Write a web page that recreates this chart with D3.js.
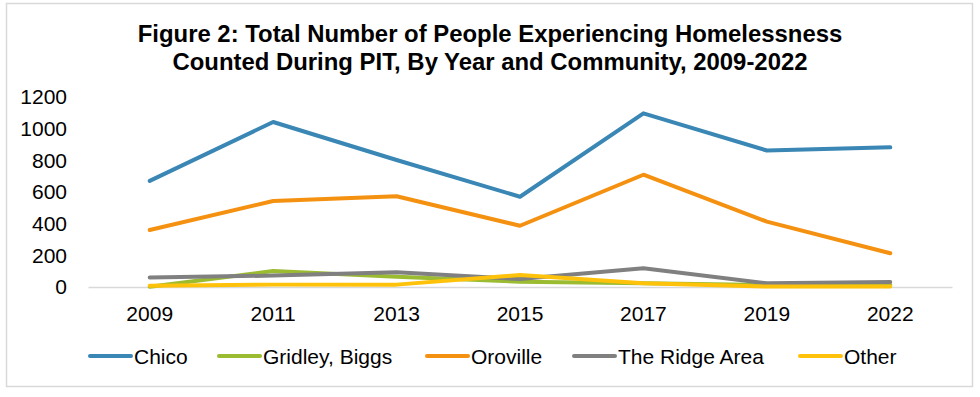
<!DOCTYPE html>
<html>
<head>
<meta charset="utf-8">
<script src="https://cdn.jsdelivr.net/npm/d3@7"></script>
<style>
  body { margin: 0; background: #fff; }
  svg { display: block; font-family: "Liberation Sans", Arial, sans-serif; }
</style>
</head>
<body>
<script>
// chart data
var years = ["2009", "2011", "2013", "2015", "2017", "2019", "2022"];
var communities = ["Chico", "Gridley, Biggs", "Oroville", "The Ridge Area", "Other"];
var chico = [670, 1042, 802, 570, 1097, 862, 882];
var gridley = [2, 101, 65, 33, 23, 12, 12];
var oroville = [360, 543, 573, 387, 709, 413, 213];
var ridge = [60, 72, 93, 50, 118, 23, 32];
var other = [8, 15, 15, 76, 23, 3, 3];
var yTicks = [0, 200, 400, 600, 800, 1000, 1200];
var colors = ["#3a87b5", "#9bbb30", "#f59110", "#808080", "#ffc20a"];

var seriesList = [chico, gridley, oroville, ridge, other];

var width = 980,
    height = 397;

var svg = d3.select("body").append("svg")
    .attr("width", width)
    .attr("height", height);

// outer frame
svg.append("rect")
    .attr("x", 6.5).attr("y", 3.5)
    .attr("width", 966).attr("height", 383)
    .attr("fill", "#fff")
    .attr("stroke", "#d9d9d9")
    .attr("stroke-width", 1.5);

// title
var title = svg.append("text")
    .attr("text-anchor", "middle")
    .attr("font-weight", "bold")
    .attr("font-size", "23.9px")
    .attr("fill", "#000");
title.append("tspan").attr("x", 490).attr("y", 41.5)
    .text("Figure 2: Total Number of People Experiencing Homelessness");
title.append("tspan").attr("x", 490).attr("y", 69.5)
    .text("Counted During PIT, By Year and Community, 2009-2022");

var x = d3.scaleBand()
    .domain(years)
    .range([88, 952]);

var y = d3.scaleLinear()
    .domain([0, 1200])
    .range([287, 97]);

// y axis labels
svg.append("g")
    .attr("transform", "translate(67,0)")
    .call(d3.axisLeft(y).tickValues(yTicks).tickFormat(d3.format("d")).tickSize(0).tickPadding(0))
    .call(function(g) {
      g.select(".domain").remove();
      g.selectAll("text")
        .attr("font-size", "21px")
        .attr("font-family", "\"Liberation Sans\", Arial, sans-serif")
        .attr("fill", "#000");
    });

// x axis (baseline at zero)
svg.append("g")
    .attr("transform", "translate(0," + y(0) + ")")
    .call(d3.axisBottom(x).tickSize(0).tickPadding(19))
    .call(function(g) {
      g.select(".domain").attr("stroke", "#d9d9d9").attr("stroke-width", 1.5);
      g.selectAll("text")
        .attr("font-size", "21px")
        .attr("font-family", "\"Liberation Sans\", Arial, sans-serif")
        .attr("fill", "#000");
    });

var line = d3.line()
    .x(function(d, i) { return x(years[i]) + x.bandwidth() / 2; })
    .y(function(d) { return y(d); });

seriesList.forEach(function(s, i) {
  svg.append("path")
      .datum(s)
      .attr("d", line)
      .attr("fill", "none")
      .attr("stroke", colors[i])
      .attr("stroke-width", 4)
      .attr("stroke-linejoin", "round")
      .attr("stroke-linecap", "round");
});

// legend
var legendX = [90, 219, 427, 574, 800];
var legend = svg.append("g");
communities.forEach(function(name, i) {
  var g = legend.append("g").attr("transform", "translate(" + legendX[i] + ",356)");
  g.append("line")
      .attr("x1", 0).attr("x2", 41)
      .attr("stroke", colors[i])
      .attr("stroke-width", 4)
      .attr("stroke-linecap", "round");
  g.append("text")
      .attr("x", 44).attr("y", 7.5)
      .attr("font-size", "21px")
      .attr("fill", "#000")
      .text(name);
});
</script>
</body>
</html>
